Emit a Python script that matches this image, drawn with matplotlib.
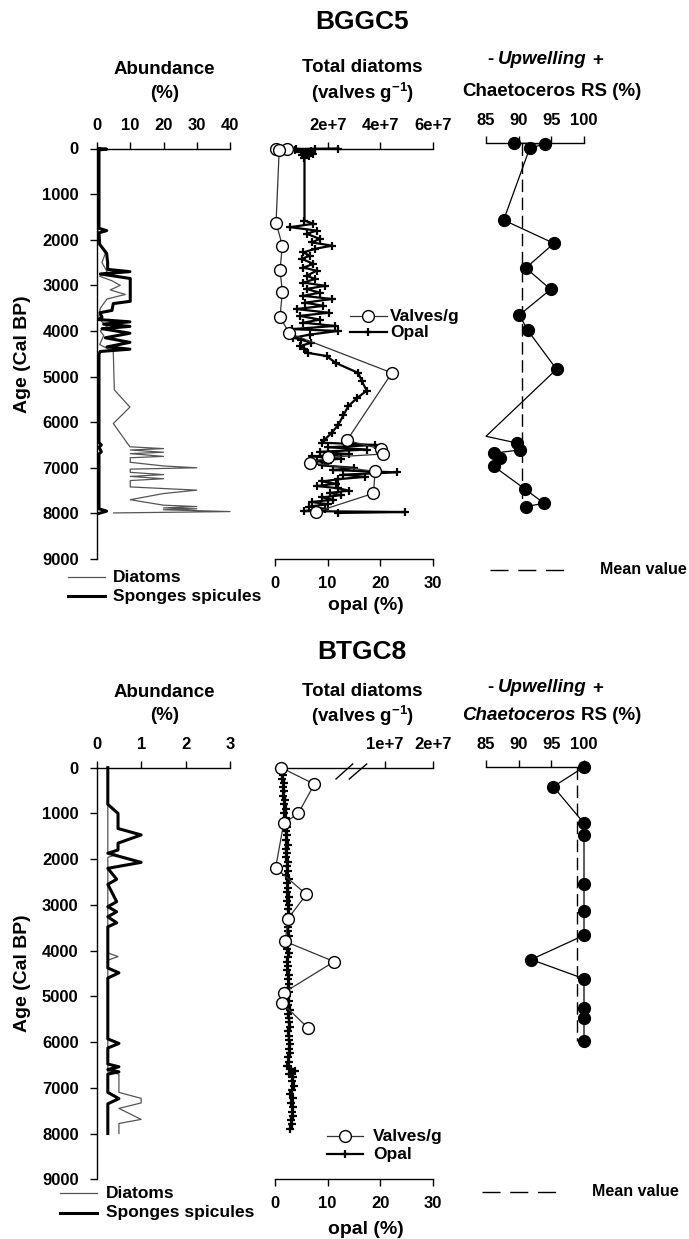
import matplotlib
matplotlib.use("Agg")
import matplotlib.pyplot as plt
from matplotlib.lines import Line2D
import numpy as np

plt.rcParams['font.family'] = ['Liberation Sans', 'DejaVu Sans']
plt.rcParams['font.weight'] = 'bold'
plt.rcParams['mathtext.fontset'] = 'custom'
plt.rcParams['mathtext.rm'] = 'Liberation Sans:bold'
plt.rcParams['mathtext.bf'] = 'Liberation Sans:bold'
plt.rcParams['mathtext.it'] = 'Liberation Sans:italic:bold'

# ---------------- DATA : BGGC5 ----------------
bg_diat_age = [0, 1800, 2100, 2300, 2500, 2700, 2800, 2900, 3000, 3100,
               3200, 3300, 3500, 3700, 3800, 3900, 4000, 4100, 4300, 4450,
               5290, 5670, 6030, 6540, 6580, 6610, 6660, 6690, 6750, 6780,
               6880, 6960, 7000, 7030, 7100, 7150, 7190, 7240, 7280, 7340,
               7420, 7490, 7565, 7700, 7820, 7850, 7880, 7900, 7920, 7940,
               7960, 7990]
bg_diat_val = [0.3, 0.3, 0.8, 2.5, 1.5, 3.0, 0.8, 4.5, 7.0, 4.0,
               8.5, 3.0, 1.0, 0.5, 1.5, 3.0, 1.0, 2.0, 0.8, 4.9,
               5.2, 9.9, 4.9, 9.9, 20, 10, 20, 10, 20, 10,
               10, 20, 30, 10, 10, 20, 10, 20, 10, 10,
               10, 30, 20, 10, 20, 30, 20, 30, 20, 30,
               40, 5]
bg_spng_age = [0, 15, 30, 1750, 1800, 1850, 2100, 2300, 2500, 2650,
               2700, 2750, 2850, 3350, 3400, 3550, 3600, 3700, 3750, 3800,
               3850, 3900, 3950, 4050, 4150, 4250, 4350, 4400, 4450, 4500,
               6450, 6500, 6550, 6650, 6700, 7900, 7950, 8000]
bg_spng_val = [0.5, 2.9, 0.6, 0.6, 2.9, 0.6, 0.8, 2.9, 3.2, 3.2,
               9.9, 1.0, 10, 10, 4.9, 4.5, 0.9, 1.5, 0.5, 9.9,
               2.0, 9.9, 1.5, 9.9, 2.5, 9.9, 3.0, 9.9, 1.0, 0.6,
               0.6, 1.3, 0.6, 1.3, 0.6, 0.6, 2.9, 0.6]

bg_vg_age = [0, 5, 25, 1630, 2130, 2660, 3140, 3690, 4050, 4920,
             6400, 6590, 6700, 6770, 6890, 7080, 7560, 7970]
bg_vg_val = [0.02e7, 0.46e7, 0.16e7, 0.04e7, 0.28e7, 0.19e7, 0.28e7, 0.19e7, 0.54e7, 4.44e7,
             2.73e7, 4.03e7, 4.09e7, 2.0e7, 1.32e7, 3.8e7, 3.74e7, 1.55e7]

bg_op_age = [0, 10, 20, 40, 60, 80, 110, 140, 170, 200,
             1580, 1650, 1725, 1800, 1870, 1980, 2060, 2130, 2200, 2280,
             2350, 2420, 2530, 2610, 2680, 2790, 2860, 2940, 3010, 3080,
             3160, 3230, 3300, 3380, 3450, 3520, 3600, 3670, 3750, 3820,
             3890, 3960, 4000, 4080, 4150, 4190, 4260, 4330, 4400, 4480,
             4550, 4700, 4920, 5100, 5310, 5480, 5650, 5850, 6060, 6230,
             6400, 6450, 6500, 6550, 6600, 6650, 6700, 6750, 6800, 6850,
             6900, 6950, 7000, 7050, 7100, 7150, 7200, 7250, 7300, 7350,
             7400, 7450, 7500, 7550, 7600, 7650, 7700, 7750, 7800, 7850,
             7900, 7950, 7970, 7990]
bg_op_val = [12.0, 4.0, 7.5, 3.8, 6.8, 5.0, 7.2, 5.2, 6.5, 5.6,
             5.6, 7.3, 2.9, 7.9, 6.0, 8.5, 7.0, 10.8, 7.6, 5.4,
             6.6, 5.1, 7.3, 5.4, 7.9, 6.0, 7.6, 5.4, 9.5, 6.0,
             8.5, 5.4, 10.8, 5.7, 9.2, 4.1, 10.2, 4.7, 8.5, 5.4,
             11.4, 3.2, 12.0, 6.6, 3.5, 5.0, 6.8, 4.8, 5.5, 6.2,
             9.8, 11.5, 15.8, 16.5, 17.4, 15.5, 13.9, 13.0, 12.0, 10.8,
             9.3, 9.0, 19.0, 10.0, 17.5, 8.5, 14.0, 7.0, 12.5, 8.0,
             10.0, 9.0, 15.0, 11.0, 23.1, 13.0, 17.0, 12.0, 9.0, 11.5,
             8.0, 12.0, 14.0, 10.5, 12.5, 9.0, 11.0, 7.0, 10.0, 6.5,
             9.5, 5.5, 24.7, 12.0]

bg_ch_age = [0, 20, 110, 1690, 2200, 2740, 3210, 3770, 4110, 4960,
             6430, 6580, 6730, 6800, 6900, 7090, 7580, 7900, 7970]
bg_ch_val = [89.3, 94.1, 91.7, 87.7, 95.4, 91.1, 94.9, 90.1, 91.4, 95.8,
             85.0, 89.8, 90.2, 86.2, 87.1, 86.2, 90.9, 93.9, 91.1]
bg_ch_mean = 90.5

# ---------------- DATA : BTGC8 ----------------
bt_diat_age = [0, 1850, 1900, 1960, 4050, 4130, 4210, 6650, 6700, 7100,
               7230, 7330, 7450, 7690, 7780, 8000]
bt_diat_val = [0.25, 0.25, 0.45, 0.25, 0.25, 0.48, 0.25, 0.25, 0.5, 0.5,
               1.0, 1.0, 0.5, 1.0, 0.5, 0.5]
bt_spng_age = [0, 800, 1000, 1330, 1470, 1650, 1800, 1870, 2070, 2200,
               2440, 2550, 2930, 3040, 3150, 3260, 3390, 3480, 4380, 4485,
               4600, 5930, 6030, 6130, 6480, 6540, 6600, 6650, 6700, 7100,
               7235, 7350, 8000]
bt_spng_val = [0.25, 0.25, 0.48, 0.48, 1.0, 0.48, 0.48, 0.25, 1.0, 0.25,
               0.45, 0.25, 0.45, 0.25, 0.45, 0.25, 0.45, 0.25, 0.25, 0.5,
               0.25, 0.25, 0.5, 0.25, 0.25, 0.5, 0.25, 0.5, 0.25, 0.25,
               0.5, 0.25, 0.25]

bt_vg_age = [0, 360, 1000, 1220, 2190, 2770, 3300, 3800, 4240, 4920, 5140, 5700]
bt_vg_val = [0.2e6, 1.27e6, 0.75e6, 0.28e6, 0.02e6, 1.01e6, 0.42e6, 0.33e6,
             1.91e6, 0.28e6, 0.22e6, 1.08e6]

bt_op_age = [0, 60, 150, 240, 330, 430, 520, 610, 700, 800,
             900, 1000, 1100, 1190, 1290, 1390, 1480, 1580, 1680, 1770,
             1870, 1960, 2060, 2150, 2250, 2340, 2440, 2530, 2630, 2720,
             2820, 2910, 3010, 3100, 3200, 3290, 3390, 3480, 3580, 3670,
             3770, 3860, 3960, 4050, 4150, 4240, 4340, 4430, 4530, 4620,
             4720, 4810, 4910, 5000, 5100, 5190, 5290, 5380, 5480, 5570,
             5670, 5760, 5860, 5950, 6050, 6140, 6240, 6330, 6430, 6520,
             6580, 6640, 6700, 6760, 6850, 6950, 7040, 7140, 7230, 7330,
             7420, 7520, 7610, 7710, 7800, 7900]
bt_op_val = [1.4, 1.2, 1.6, 1.3, 1.7, 1.5, 1.8, 1.6, 1.9, 1.7,
             2.0, 1.8, 2.1, 1.9, 2.2, 2.0, 2.3, 2.1, 2.4, 2.0,
             2.3, 2.1, 2.5, 2.2, 2.4, 2.1, 2.6, 2.3, 2.5, 2.2,
             2.6, 2.3, 2.7, 2.4, 2.6, 2.3, 2.7, 2.5, 2.4, 2.6,
             2.3, 2.5, 2.2, 2.6, 2.4, 2.2, 2.5, 2.3, 2.6, 2.4,
             2.7, 2.4, 2.6, 2.3, 2.7, 2.5, 2.8, 2.5, 2.7, 2.6,
             2.8, 2.5, 2.7, 2.6, 2.9, 2.6, 2.8, 2.5, 2.7, 2.2,
             3.0, 3.8, 2.6, 3.5, 3.2, 3.6, 3.3, 2.9, 3.4, 3.1,
             3.5, 3.2, 3.4, 3.0, 3.3, 2.8]

bt_ch_age = [0, 430, 1230, 1480, 2560, 3140, 3680, 4210, 4630, 5270, 5480, 6000]
bt_ch_val = [100, 95.3, 100, 100, 100, 100, 100, 91.9, 100, 100, 100, 100]
bt_ch_mean = 99.0

age_ticks = [0, 1000, 2000, 3000, 4000, 5000, 6000, 7000, 8000, 9000]

# ---------------- FIGURE ----------------
W, H = 689, 1239
fig = plt.figure(figsize=(W / 100, H / 100), dpi=100)
renderer = fig.canvas.get_renderer()

def fx(x):
    return x / W

def fy(y):
    return 1 - y / H

def px_axes(x0, x1, y0, y1):
    ax = fig.add_axes([x0 / W, 1 - y1 / H, (x1 - x0) / W, (y1 - y0) / H])
    ax.patch.set_alpha(0)
    return ax

TICK = 12
SP_LW = 1.0

def style_spines(ax, keep):
    for k, s in ax.spines.items():
        s.set_visible(k in keep)
        s.set_linewidth(SP_LW)

def ftext(x, y, s, size=13.5, **kw):
    kw.setdefault('ha', 'center')
    kw.setdefault('va', 'center')
    return fig.text(fx(x), fy(y), s, fontsize=size, fontweight='bold', **kw)

def rich(xc, y, parts, size=13.5):
    gap = 0.28 * size * 100 / 72
    items = []
    total = 0
    for s, st in parts:
        if s == ' ':
            items.append((None, gap))
            total += gap
            continue
        t = fig.text(0, fy(y), s, fontsize=size, fontweight='bold',
                     fontstyle=st, ha='left', va='center')
        w = t.get_window_extent(renderer).width
        items.append((t, w))
        total += w
    x = xc - total / 2
    for t, w in items:
        if t is not None:
            t.set_x(fx(x))
        x += w

def fline(x0, x1, y, **kw):
    fig.add_artist(Line2D([fx(x0), fx(x1)], [fy(y), fy(y)], **kw))

def age_axis(ax):
    ax.set_ylim(9000, 0)
    ax.set_yticks(age_ticks)
    ax.tick_params(axis='y', direction='out', length=5, width=SP_LW, pad=8,
                   labelsize=TICK)

def bold_ticks(ax):
    for lab in ax.get_xticklabels() + ax.get_yticklabels():
        lab.set_fontweight('bold')

# valves broken scale (bottom core)
BRK = 2e6
def v_fwd(v):
    v = np.asarray(v, dtype=float)
    return np.where(v <= BRK, v / BRK * 62.0, 62.0 + v * 4.8e-6)

def v_inv(u):
    u = np.asarray(u, dtype=float)
    return np.where(u <= 62.0, u / 62.0 * BRK, np.maximum((u - 62.0) / 4.8e-6, BRK))


def section(y_top, y_bot, name, name_y, ab_xlim, ab_ticks, ab_x0,
            diat, spng, vg, op, ch, ch_mean, ch_top, valves_broken,
            titles_y, up_y, ch_y, ch_italic, leg, vleg, mean_leg, opal_lab_y):
    ftext(362, name_y, name, size=19)

    # ---- abundance panel
    ax = px_axes(ab_x0, 230, y_top, y_bot)
    style_spines(ax, ['left', 'top'])
    ax.plot(diat[1], diat[0], color='#555555', lw=0.9, clip_on=False, zorder=2)
    ax.plot(spng[1], spng[0], color='black', lw=2.2, clip_on=False, zorder=3)
    ax.set_xlim(*ab_xlim)
    ax.set_xticks(ab_ticks)
    ax.xaxis.tick_top()
    ax.tick_params(axis='x', direction='out', length=5, width=SP_LW, pad=6,
                   labelsize=TICK)
    age_axis(ax)
    bold_ticks(ax)
    ax.set_ylabel('Age (Cal BP)', fontsize=14, fontweight='bold', labelpad=8)
    ftext(164, titles_y[0], 'Abundance')
    ftext(165, titles_y[1], '(%)')

    ly0, ly1, lx0, lx1, ltx = leg
    fline(lx0, lx1, ly0, color='#555555', lw=0.9)
    fline(lx0, lx1, ly1, color='black', lw=2.2)
    ftext(ltx, ly0, 'Diatoms', size=12.5, ha='left')
    ftext(ltx, ly1, 'Sponges spicules', size=12.5, ha='left')

    # ---- total diatoms / opal panel
    axo = px_axes(275, 433, y_top, y_bot)
    style_spines(axo, ['bottom'])
    axo.plot(op[1], op[0], color='black', lw=1.6, marker='+', ms=6, mew=1.6,
             clip_on=False, zorder=3)
    axo.set_xlim(0, 30)
    axo.set_xticks([0, 10, 20, 30])
    axo.set_ylim(9000, 0)
    axo.set_yticks([])
    axo.tick_params(axis='x', direction='out', length=5, width=SP_LW, pad=7,
                    labelsize=TICK)
    bold_ticks(axo)
    ftext(366, opal_lab_y, 'opal (%)', size=14)

    axv = axo.twiny()
    axv.patch.set_alpha(0)
    style_spines(axv, ['top'])
    axv.plot(vg[1], vg[0], color='#333333', lw=0.9, marker='o', ms=8.5,
             mfc='white', mec='black', mew=1.0, clip_on=False, zorder=5)
    if valves_broken:
        axv.set_xscale('function', functions=(v_fwd, v_inv))
        axv.set_xlim(0, 2e7)
        axv.set_xticks([1e7, 2e7])
        axv.set_xticklabels(['1e+7', '2e+7'])
        for (a, b) in [((336, 779), (352.7, 764)), ((349.3, 779), (366.7, 764))]:
            fig.add_artist(Line2D([fx(a[0]), fx(b[0])], [fy(a[1]), fy(b[1])],
                                  color='black', lw=1.0))
    else:
        axv.set_xlim(0, 6e7)
        axv.set_xticks([2e7, 4e7, 6e7])
        axv.set_xticklabels(['2e+7', '4e+7', '6e+7'])
    axv.tick_params(axis='x', direction='out', length=5, width=SP_LW, pad=6,
                    labelsize=TICK)
    bold_ticks(axv)
    ftext(362, titles_y[0] - 2, 'Total diatoms')
    ftext(363, titles_y[1], r'(valves g$^{\mathbf{-1}}$)')

    lx0, lx1, ly0, ly1, tx = vleg
    fig.add_artist(Line2D([fx(lx0), fx((lx0 + lx1) / 2), fx(lx1)], [fy(ly0)] * 3,
                          color='#333333', lw=0.9, marker='o', ms=8.5, mfc='white',
                          mec='black', mew=1.0, markevery=[1]))
    fig.add_artist(Line2D([fx(lx0), fx((lx0 + lx1) / 2), fx(lx1)], [fy(ly1)] * 3,
                          color='black', lw=1.6, marker='+', ms=6, mew=1.6,
                          markevery=[1]))
    ftext(tx, ly0, 'Valves/g', size=12.5, ha='left')
    ftext(tx, ly1, 'Opal', size=12.5, ha='left')

    # ---- Chaetoceros panel
    axc = px_axes(486, 584, ch_top, ch_top + (y_bot - y_top))
    style_spines(axc, ['top'])
    n = len(ch[0])
    marks = [i for i in range(n) if ch[1][i] > 85.0]
    axc.plot(ch[1], ch[0], color='black', lw=0.9, marker='o', ms=8.5,
             mfc='black', mec='black', markevery=marks, clip_on=False, zorder=4)
    axc.plot([ch_mean, ch_mean], [0, max(ch[0])], color='black', lw=1.0,
             dashes=(9, 4), zorder=2)
    axc.set_xlim(85, 100)
    axc.set_xticks([85, 90, 95, 100])
    axc.set_ylim(9000, 0)
    axc.set_yticks([])
    axc.xaxis.tick_top()
    axc.tick_params(axis='x', direction='out', length=5, width=SP_LW, pad=6,
                    labelsize=TICK)
    bold_ticks(axc)
    rich(545, up_y, [('-', 'normal'), (' ', None), ('Upwelling', 'italic'),
                     (' ', None), ('+', 'normal')])
    rich(552, ch_y, [('Chaetoceros', 'italic' if ch_italic else 'normal'),
                     (' ', None), ('RS (%)', 'normal')])

    mx0, mx1, my, mtx = mean_leg
    fline(mx0, mx1, my, color='black', lw=1.0, dashes=(13, 7))
    ftext(mtx, my, 'Mean value', size=11.5, ha='left')


section(148.5, 559, 'BGGC5', 22, (0, 40), [0, 10, 20, 30, 40], 97,
        (bg_diat_age, bg_diat_val), (bg_spng_age, bg_spng_val),
        (bg_vg_age, bg_vg_val), (bg_op_age, bg_op_val),
        (bg_ch_age, bg_ch_val), bg_ch_mean, 143, False,
        (70, 93), 60, 91, False,
        (577, 596, 68, 105, 113), (350, 387, 316, 332, 390),
        (490, 570, 570, 600), 605)

section(767.7, 1179.3, 'BTGC8', 652, (0, 3), [0, 1, 2, 3], 96.7,
        (bt_diat_age, bt_diat_val), (bt_spng_age, bt_spng_val),
        (bt_vg_age, bt_vg_val), (bt_op_age, bt_op_val),
        (bt_ch_age, bt_ch_val), bt_ch_mean, 767, True,
        (693, 716), 688, 716, True,
        (1193, 1213, 60, 97, 106), (327, 363, 1136, 1154, 373),
        (482, 560, 1192, 592), 1229)

fig.savefig('out.png', dpi=100)
